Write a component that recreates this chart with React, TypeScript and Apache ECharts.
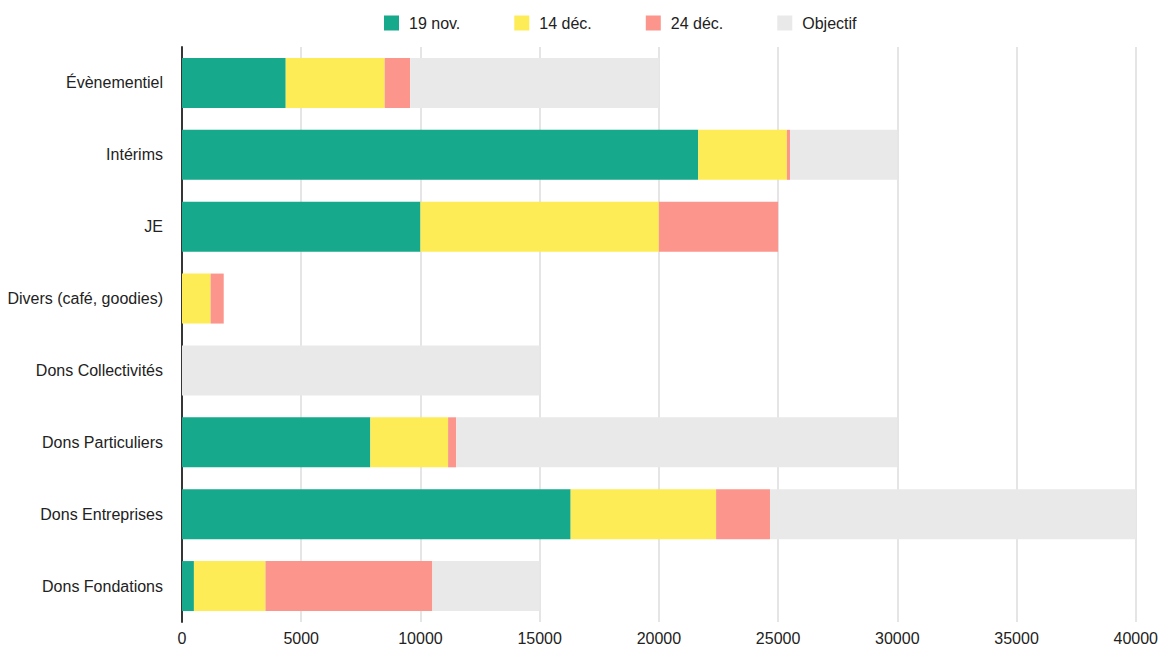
import React, { useEffect, useRef } from "react";
import * as echarts from "echarts";

const categories = [
  "Évènementiel",
  "Intérims",
  "JE",
  "Divers (café, goodies)",
  "Dons Collectivités",
  "Dons Particuliers",
  "Dons Entreprises",
  "Dons Fondations",
];
const nov19 = [4350, 21650, 10000, 0, 0, 7900, 16300, 500];
const dec14 = [4150, 3720, 10000, 1200, 0, 3260, 6100, 3000];
const dec24 = [1070, 130, 5000, 550, 0, 340, 2260, 7000];
const objectifRemaining = [10430, 4500, 0, 0, 15000, 18500, 15340, 4500];
const xTicks = [0, 5000, 10000, 15000, 20000, 25000, 30000, 35000, 40000];

const seriesNames = ["19 nov.", "14 déc.", "24 déc.", "Objectif"];
const colors = ["#17a98b", "#fdec55", "#fc958b", "#e9e9e9"];

const FONT = "Liberation Sans, Arial, Helvetica, sans-serif";

export default function App() {
  const ref = useRef<HTMLDivElement>(null);
  useEffect(() => {
    if (!ref.current) return;
    const chart = echarts.init(ref.current, null, { renderer: "svg" });
    const dataSets = [nov19, dec14, dec24, objectifRemaining];
    chart.setOption({
      animation: false,
      textStyle: { fontFamily: FONT },
      legend: {
        top: 10,
        left: 379,
        itemWidth: 15,
        itemHeight: 15,
        itemGap: 54,
        icon: "rect",
        textStyle: { fontSize: 16, color: "#222", fontFamily: FONT, padding: [0, 0, 0, 5] },
        data: seriesNames,
      },
      grid: { left: 182, right: 22, top: 47, bottom: 21, containLabel: false },
      xAxis: {
        type: "value",
        min: xTicks[0],
        max: xTicks[xTicks.length - 1],
        interval: 5000,
        axisLine: { show: false },
        axisTick: { show: false },
        axisLabel: { fontSize: 16, color: "#222", margin: 8, formatter: (v: number) => String(v) },
        splitLine: { show: true, lineStyle: { color: "#dcdcdc", width: 1.5 } },
      },
      yAxis: {
        type: "category",
        data: categories,
        inverse: true,
        axisLine: { show: true, lineStyle: { color: "#222", width: 1.8 } },
        axisTick: { show: false },
        axisLabel: { fontSize: 16, color: "#222", margin: 19 },
        splitLine: { show: false },
      },
      series: seriesNames.map((name, i) => ({
        name,
        type: "bar",
        stack: "total",
        barWidth: 50,
        itemStyle: { color: colors[i] },
        emphasis: { disabled: true },
        data: dataSets[i],
      })),
    });
    return () => chart.dispose();
  }, []);
  return <div ref={ref} style={{ width: 1161, height: 646, position: "absolute", left: 0, top: 0 }} />;
}
